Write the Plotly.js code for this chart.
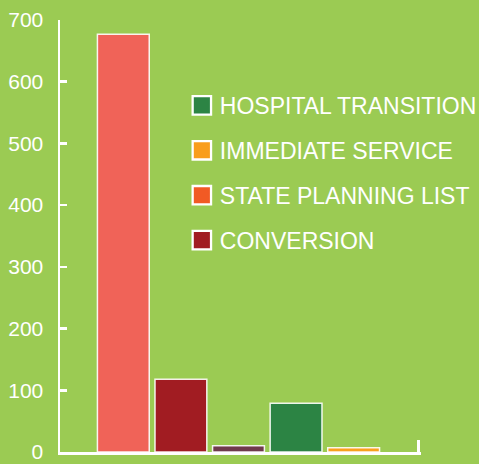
<!DOCTYPE html>
<html>
<head>
<meta charset="utf-8">
<script src="https://cdn.plot.ly/plotly-3.0.1.min.js"></script>
<style>
  html, body { margin: 0; padding: 0; background: #9BCB53; }
  #chart { width: 479px; height: 464px; }
</style>
</head>
<body>
<div id="chart"></div>
<script>
// ---- data ----
const barNames  = ['Bar 1', 'Bar 2', 'Bar 3', 'Bar 4', 'Bar 5'];
const barValues = [677, 118, 10, 79, 7];
const barColors = ['#F06358', '#A11C22', '#6F3A4C', '#2C8444', '#F9A01E'];

const legendNames  = ['HOSPITAL TRANSITION', 'IMMEDIATE SERVICE', 'STATE PLANNING LIST', 'CONVERSION'];
const legendColors = ['#2C8444', '#F99D1C', '#F15A24', '#A11C22'];

const yTickVals = [0, 100, 200, 300, 400, 500, 600, 700];

// ---- traces ----
const traces = [{
  type: 'bar',
  x: barNames.map((_, i) => i),
  y: barValues,
  width: 0.9,
  marker: { color: barColors, line: { color: 'rgba(255,255,255,0.9)', width: 1.5 } },
  showlegend: false,
  hoverinfo: 'skip'
}];

legendNames.forEach((name, i) => {
  traces.push({
    type: 'scatter',
    mode: 'markers',
    name: name,
    legendgroup: 'g' + i,
    x: [null],
    y: [null],
    marker: { symbol: 'square', size: 24, color: legendColors[i], line: { color: '#FFFFFF', width: 2 } },
    showlegend: true,
    hoverinfo: 'skip'
  });
});

const layout = {
  width: 479,
  height: 464,
  margin: { l: 60, r: 58, t: 19.5, b: 11.5, pad: 0, autoexpand: false },
  paper_bgcolor: '#9BCB53',
  plot_bgcolor: '#9BCB53',
  font: { family: '"Liberation Sans", Arial, Helvetica, sans-serif', color: '#FFFFFF' },
  showlegend: true,
  legend: {
    x: 0.332, xanchor: 'left',
    y: 0.852, yanchor: 'top',
    bgcolor: 'rgba(0,0,0,0)',
    font: { size: 23, color: '#FFFFFF' },
    traceorder: 'grouped',
    tracegroupgap: 12,
    itemsizing: 'trace'
  },
  xaxis: {
    type: 'linear',
    range: [-1.1, 5.17],
    showgrid: false,
    zeroline: false,
    showline: true,
    linecolor: '#FFFFFF',
    linewidth: 2.5,
    tickmode: 'array',
    tickvals: [5.13],
    ticktext: [''],
    ticks: 'inside',
    ticklen: 12,
    tickwidth: 2.5,
    tickcolor: '#FFFFFF',
    fixedrange: true
  },
  yaxis: {
    range: [0, 700],
    showgrid: false,
    zeroline: false,
    showline: true,
    linecolor: '#FFFFFF',
    linewidth: 2.5,
    tickmode: 'array',
    tickvals: yTickVals,
    ticktext: yTickVals.map(String),
    ticks: 'inside',
    ticklen: 7,
    tickwidth: 2.5,
    tickcolor: '#FFFFFF',
    ticklabelstandoff: 10,
    tickfont: { size: 21, color: '#FFFFFF' },
    fixedrange: true
  },
  bargap: 0.1
};

Plotly.newPlot('chart', traces, layout, { displayModeBar: false, staticPlot: true }).then(function (gd) {
  // enlarge legend swatches slightly to match the reference's 20px boxes
  gd.querySelectorAll('.legend .legendpoints path.scatterpts').forEach(function (p) {
    var t = p.getAttribute('transform') || '';
    p.setAttribute('transform', t + ' translate(2,0) scale(1.15)');
  });
});
</script>
</body>
</html>
